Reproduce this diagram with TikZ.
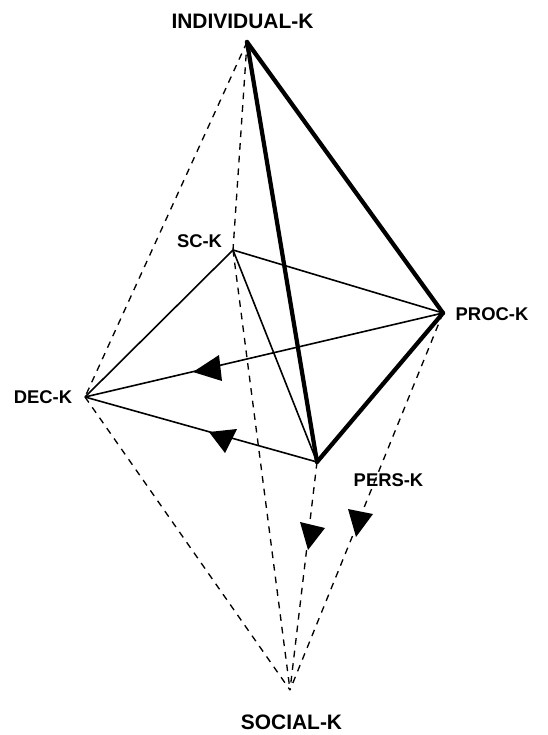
\documentclass[tikz,border=0pt]{standalone}
\usepackage{fontspec}
\setmainfont{Liberation Sans}
\tikzstyle{corner} = [coordinate]
\tikzstyle{biglabel} = [font=\fontsize{15.7}{18}\selectfont\bfseries, inner sep=0pt]
\tikzstyle{smalllabel} = [font=\fontsize{13.8}{16}\selectfont\bfseries, inner sep=0pt]
\tikzstyle{thinline} = [line width=1.2pt]
\tikzstyle{thickline} = [line width=3.2pt, line cap=round]
\tikzstyle{dashline} = [line width=1pt, dash pattern=on 5pt off 4.5pt]
\tikzstyle{head} = [fill=black]
\begin{document}
\begin{tikzpicture}[x=0.75pt,y=-0.75pt]
	\useasboundingbox (0,0) rectangle (548,735);
	% The corners of the figure
	\node [corner] (individual) at (247,42) {};
	\node [corner] (sc) at (233,250) {};
	\node [corner] (proc) at (443,313) {};
	\node [corner] (dec) at (85,397) {};
	\node [corner] (pers) at (317,462) {};
	\node [corner] (social) at (290,690) {};
	% The labels
	\node [biglabel] (individuallabel) at (242.5,21.5) {INDIVIDUAL-K};
	\node [biglabel] (sociallabel) at (291.5,722) {SOCIAL-K};
	\node [smalllabel] (sclabel) at (199.5,241.5) {SC-K};
	\node [smalllabel] (proclabel) at (492,314.5) {PROC-K};
	\node [smalllabel] (declabel) at (43,397) {DEC-K};
	\node [smalllabel] (perslabel) at (388.5,480) {PERS-K};
	% Dashed edges
	\draw [dashline] (individual) -- (sc);
	\draw [dashline] (individual) -- (dec);
	\draw [dashline] (sc) -- (social);
	\draw [dashline] (dec) -- (social);
	\draw [dashline] (pers) -- (social);
	\draw [dashline] (proc) -- (social);
	% Thin edges
	\draw [thinline] (sc) -- (proc);
	\draw [thinline] (sc) -- (dec);
	\draw [thinline] (sc) -- (pers);
	\draw [thinline] (proc) -- (dec);
	\draw [thinline] (pers) -- (dec);
	% Thick edges
	\draw [thickline] (individual) -- (proc);
	\draw [thickline] (individual) -- (pers);
	\draw [thickline] (proc) -- (pers);
	% The arrowheads sit on the edges
	\fill [head] (193,372) -- (219,355) -- (222,381) -- cycle;
	\fill [head] (209,432) -- (237,429) -- (225,453) -- cycle;
	\fill [head] (300,522) -- (325,528) -- (308,550) -- cycle;
	\fill [head] (348,509) -- (373,514) -- (356,537) -- cycle;
\end{tikzpicture}
\end{document}
